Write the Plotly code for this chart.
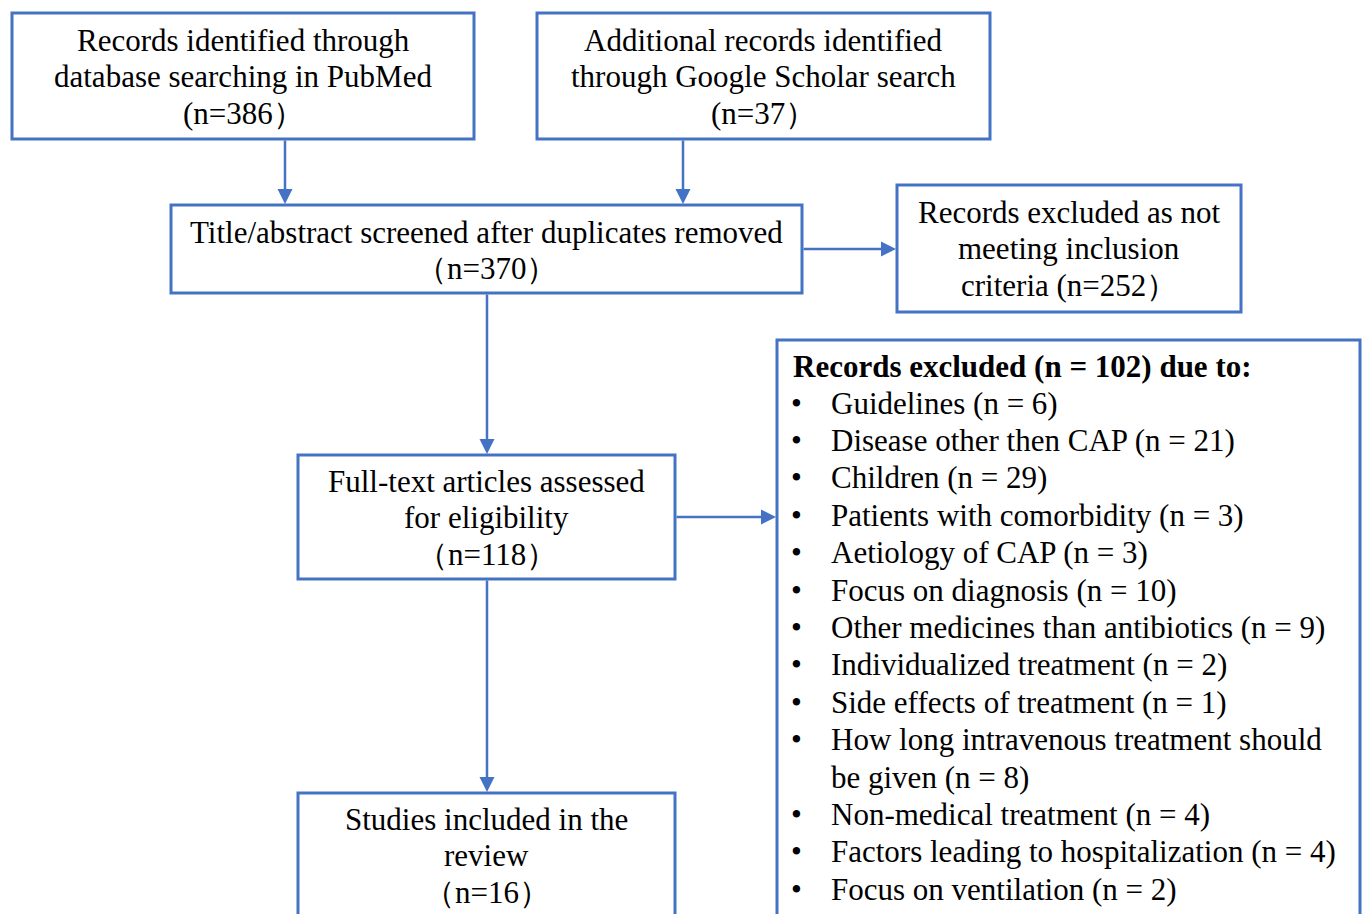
import plotly.graph_objects as go

W, H = 1363, 914
BLUE = "#4472C4"
FONT = "Liberation Serif, Times New Roman, serif"
FS = 31

# ---- data ----
box_names = ["pubmed", "scholar", "screened", "excl_screen", "fulltext", "included", "excl_full"]
box_lines = [
    ["Records identified through", "database searching in PubMed", "(n=386）"],
    ["Additional records identified", "through Google Scholar search", "(n=37）"],
    ["Title/abstract screened after duplicates removed", "（n=370）"],
    ["Records excluded as not", "meeting inclusion", "criteria (n=252）"],
    ["Full-text articles assessed", "for eligibility", "（n=118）"],
    ["Studies included in the", "review", "（n=16）"],
    [],
]
excl_title = "Records excluded (n = 102) due to:"
excl_reasons = ["Guidelines", "Disease other then CAP", "Children", "Patients with comorbidity",
                "Aetiology of CAP", "Focus on diagnosis", "Other medicines than antibiotics",
                "Individualized treatment", "Side effects of treatment",
                "How long intravenous treatment should<br>be given", "Non-medical treatment",
                "Factors leading to hospitalization", "Focus on ventilation"]
excl_counts = [6, 21, 29, 3, 3, 10, 9, 2, 1, 8, 4, 4, 2]

# ---- layout (pixel geometry) ----
boxes = {
    "pubmed": (12, 13, 474, 139),
    "scholar": (537, 13, 990, 139),
    "screened": (171, 205, 802, 293),
    "excl_screen": (897, 185, 1241, 312),
    "fulltext": (298, 455, 675, 579),
    "included": (298, 793, 675, 940),
    "excl_full": (777, 340, 1360, 940),
}
first_line_y = {"pubmed": 40, "scholar": 40, "screened": 232, "excl_screen": 212,
                "fulltext": 481, "included": 819}
LS = 36.5

fig = go.Figure()
shapes = []
annos = []
for name, lines in zip(box_names, box_lines):
    x0, y0, x1, y1 = boxes[name]
    shapes.append(dict(type="rect", xref="x", yref="y", x0=x0, y0=y0, x1=x1, y1=y1,
                       line=dict(color=BLUE, width=3), fillcolor="white", layer="below"))
    cx = (x0 + x1) / 2
    for i, ln in enumerate(lines):
        annos.append(dict(x=cx, y=first_line_y[name] + i * LS, xref="x", yref="y", text=ln,
                          showarrow=False, xanchor="center", yanchor="middle",
                          font=dict(family=FONT, size=FS, color="black")))

# exclusion list
annos.append(dict(x=791, y=366, xref="x", yref="y", text="<b>" + excl_title + "</b>",
                  showarrow=False, xanchor="left", yanchor="middle",
                  font=dict(family=FONT, size=FS, color="black")))
row = 0
LSL = 37.4
for reason, cnt in zip(excl_reasons, excl_counts):
    y = 403 + row * LSL
    parts = reason.split("<br>")
    parts[-1] = parts[-1] + f" (n = {cnt})"
    annos.append(dict(x=796, y=y, xref="x", yref="y", text="•", showarrow=False,
                      xanchor="center", yanchor="middle",
                      font=dict(family=FONT, size=FS, color="black")))
    for j, p in enumerate(parts):
        annos.append(dict(x=829, y=y + j * LSL, xref="x", yref="y", text=p, showarrow=False,
                          xanchor="left", yanchor="middle",
                          font=dict(family=FONT, size=FS, color="black")))
    row += len(parts)

# arrows (from, to)
arrows = [
    ((285, 139), (285, 205)),
    ((683, 139), (683, 205)),
    ((802, 249), (897, 249)),
    ((487, 293), (487, 455)),
    ((675, 517), (777, 517)),
    ((487, 579), (487, 793)),
]
for (ax_, ay_), (x_, y_) in arrows:
    annos.append(dict(x=x_, y=y_, ax=ax_, ay=ay_, xref="x", yref="y", axref="x", ayref="y",
                      text="", showarrow=True, arrowhead=2, arrowsize=1.2, arrowwidth=2.5,
                      arrowcolor=BLUE, standoff=1))

fig.update_layout(
    width=W, height=H, margin=dict(l=0, r=0, t=0, b=0),
    paper_bgcolor="white", plot_bgcolor="white",
    xaxis=dict(range=[0, W], visible=False, fixedrange=True),
    yaxis=dict(range=[H, 0], visible=False, fixedrange=True),
    shapes=shapes, annotations=annos, showlegend=False,
)
fig.write_html("out.html", config={"displayModeBar": False},
               post_script="document.body.style.margin='0';document.body.style.overflow='hidden';"
                           "document.documentElement.style.overflow='hidden';window.dispatchEvent(new Event('resize'));")
